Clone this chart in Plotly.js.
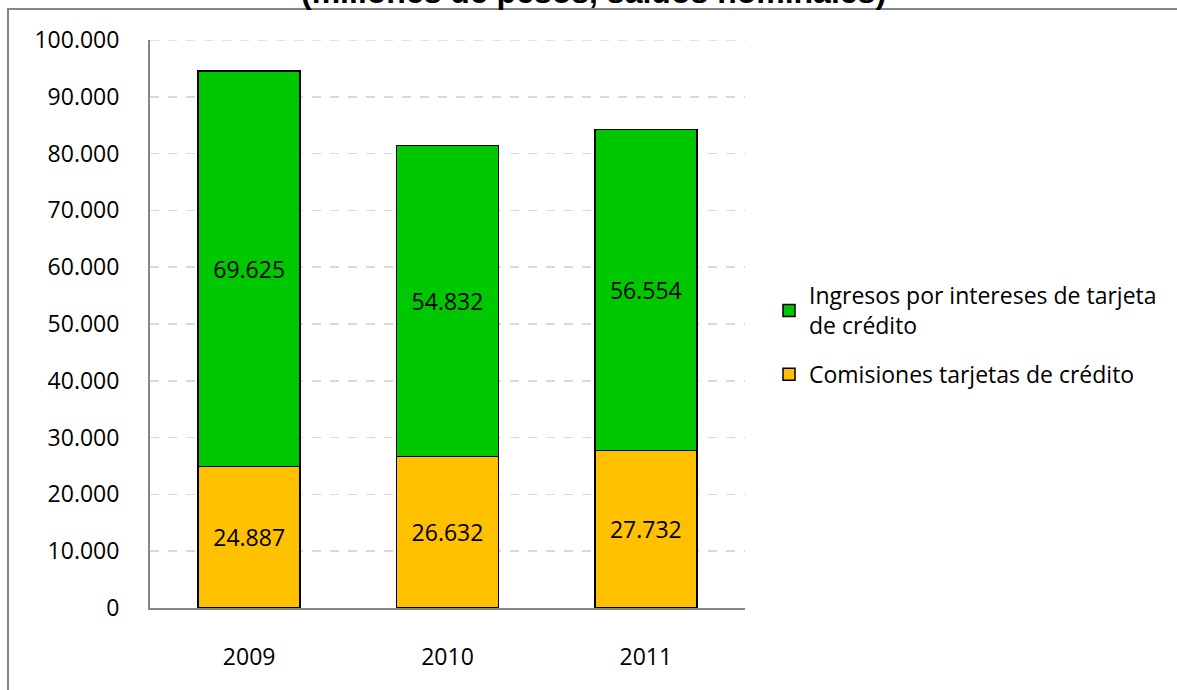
<!DOCTYPE html>
<html>
<head>
<meta charset="utf-8">
<script src="https://cdn.plot.ly/plotly-3.0.1.min.js"></script>
<style>html,body{margin:0;padding:0;background:#fff;}#chart{width:1177px;height:690px;}</style>
</head>
<body>
<div id="chart"></div>
<script>
const years = ['2009', '2010', '2011'];
const comisiones = [24887, 26632, 27732];
const ingresos = [69625, 54832, 56554];
const nameComisiones = 'Comisiones tarjetas de crédito';
const nameIngresos = 'Ingresos por intereses de tarjeta<br>de crédito';
const titleText = '(millones de pesos, saldos nominales)';
const yTicks = [0, 10000, 20000, 30000, 40000, 50000, 60000, 70000, 80000, 90000, 100000];
const yMax = 100000;

const L = 150, R = 745, T = 40, B = 608, W = 1177, H = 690;
const px = v => (v - L) / (R - L);
const py = v => (B - v) / (B - T);

const fontFam = '"Open Sans", "Noto Sans", sans-serif';

const common = {
  type: 'bar',
  x: years,
  width: 0.515,
  texttemplate: '%{y:,.0f}',
  textposition: 'inside',
  insidetextanchor: 'middle',
  textangle: 0,
  constraintext: 'none',
  textfont: {family: fontFam, size: 23, color: '#000'},
  hoverinfo: 'skip'
};

const traces = [
  Object.assign({}, common, {
    y: comisiones, name: nameComisiones, legendgroup: 'c', legendrank: 2,
    marker: {color: '#FFC000', line: {color: '#000', width: 1.5}}
  }),
  Object.assign({}, common, {
    y: ingresos, name: nameIngresos, legendgroup: 'i', legendrank: 1,
    marker: {color: '#00C800', line: {color: '#000', width: 1.5}}
  })
];

const layout = {
  width: W, height: H,
  margin: {l: L, r: W - R, t: T, b: H - B, pad: 0},
  paper_bgcolor: '#fff', plot_bgcolor: '#fff',
  barmode: 'stack',
  separators: ',.',
  showlegend: true,
  font: {family: fontFam, size: 23, color: '#000'},
  xaxis: {
    type: 'category',
    showline: true, linecolor: '#868686', linewidth: 2,
    showgrid: false, zeroline: false,
    ticks: '', ticklabelstandoff: 27,
    tickfont: {family: fontFam, size: 23, color: '#000'},
    fixedrange: true
  },
  yaxis: {
    range: [0, yMax],
    tickvals: yTicks,
    tickformat: ',.0f',
    showline: true, linecolor: '#868686', linewidth: 2,
    showgrid: true, gridcolor: '#d9d9d9', griddash: 'dash', gridwidth: 1.5,
    zeroline: false,
    ticks: '', ticklabelstandoff: 24,
    tickfont: {family: fontFam, size: 23, color: '#000'},
    fixedrange: true
  },
  legend: {
    x: px(769), xanchor: 'left',
    y: py(335), yanchor: 'middle',
    traceorder: 'grouped',
    font: {family: fontFam, size: 23, color: '#000'},
    itemwidth: 30,
    tracegroupgap: 16,
    bgcolor: 'rgba(0,0,0,0)'
  },
  shapes: [{
    type: 'rect', xref: 'paper', yref: 'paper',
    x0: px(8), x1: px(1185), y0: py(9), y1: py(700),
    line: {color: '#868686', width: 2}, fillcolor: 'rgba(0,0,0,0)', layer: 'below'
  }, {
    type: 'line', xref: 'paper', yref: 'y',
    x0: 0, x1: 1, y0: yMax, y1: yMax,
    line: {color: '#d9d9d9', width: 1.5, dash: 'dash'}, layer: 'below'
  }],
  annotations: [{
    text: '<b>' + titleText + '</b>',
    xref: 'paper', yref: 'paper',
    x: px(593), y: py(-8), xanchor: 'center', yanchor: 'middle',
    showarrow: false,
    font: {family: '"Liberation Sans", Arial, sans-serif', size: 32, color: '#000'}
  }]
};

Plotly.newPlot('chart', traces, layout, {displayModeBar: false, staticPlot: true});
</script>
</body>
</html>
